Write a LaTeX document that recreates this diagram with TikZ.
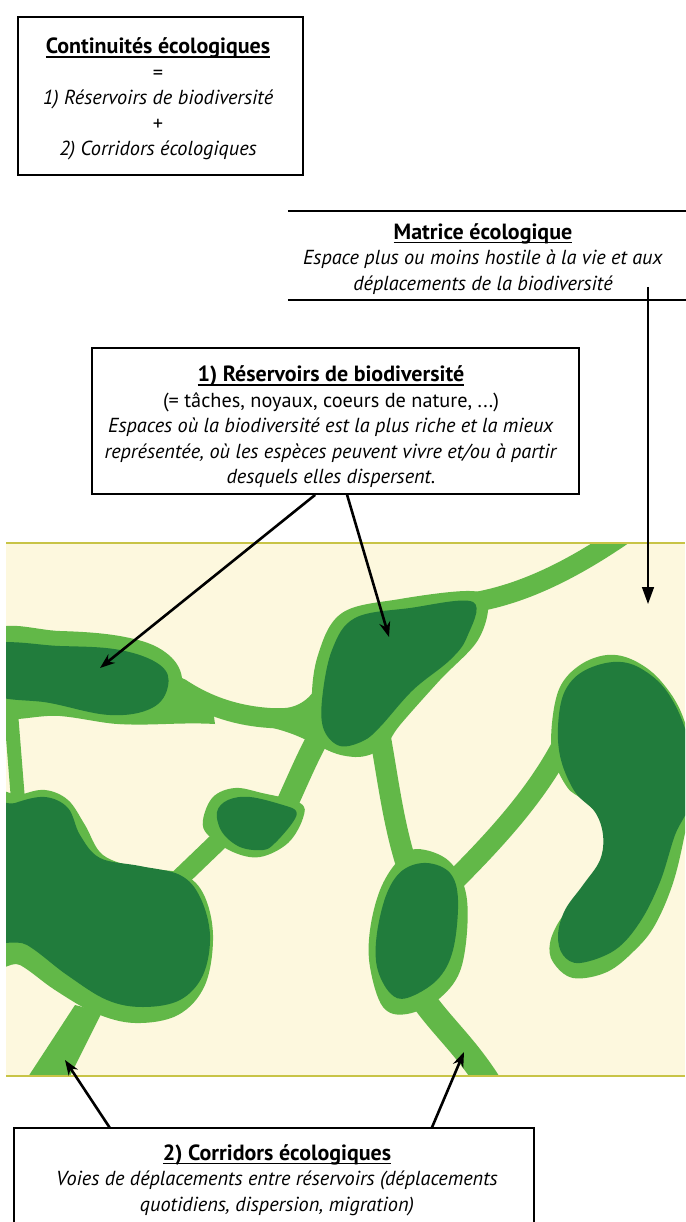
\documentclass[tikz,border=0pt]{standalone}
\usepackage{fontspec}
\setmainfont{PT Sans}
\usetikzlibrary{arrows.meta}
\definecolor{lgreen}{RGB}{98,184,72}
\definecolor{dgreen}{RGB}{33,124,60}
\definecolor{cream}{RGB}{253,248,222}
\definecolor{olive}{RGB}{200,196,70}
\newcommand\ulx[1]{\setbox0\hbox{#1}\rlap{\rule[-4pt]{\wd0}{1.4pt}}\box0}
\newcommand\ttl[1]{\ulx{\fontsize{22}{25.5}\selectfont\bfseries #1}}
\begin{document}
\begin{tikzpicture}[x=1pt,y=-1pt,
  boxtext/.style={align=center, font=\fontsize{20.3}{25.5}\selectfont, inner sep=0pt},
  boxframe/.style={draw=black, line width=1.8pt},
  lightfill/.style={fill=lgreen},
  darkfill/.style={fill=dgreen},
  corr/.style={draw=lgreen, line cap=round, line join=round},
  pointer/.style={line width=2.6pt, -{Stealth[length=15pt,width=11pt]}},
  matarrow/.style={line width=1.5pt, -{Triangle[length=17pt,width=12pt]}}
]
\useasboundingbox (0,0) rectangle (685,1222);

% ---------- map panel ----------
\begin{scope}
\clip (6,543) rectangle (685,1076);
\fill[cream] (6,543) rectangle (685,1076);
% corridors
\draw[corr, line width=20pt] (180,688) .. controls (210,708) and (240,716) .. (270,718) .. controls (290,719) and (305,716) .. (325,712);
\fill[lightfill] (278,709) .. controls (300,708) and (312,698) .. (320,680) -- (332,752) .. controls (314,745) and (298,733) .. (268,727) -- cycle;
\fill[lightfill] (160,650) .. controls (178,668) and (184,690) .. (212,702) -- (215,724) .. controls (180,722) and (150,726) .. (120,724) -- cycle;
\draw[corr, line width=20pt] (470,603) .. controls (520,595) and (570,572) .. (630,530);
\draw[corr, line width=21pt] (380,735) .. controls (388,780) and (393,820) .. (405,860);
\draw[corr, line width=22pt] (328,720) .. controls (310,750) and (298,780) .. (285,808);
\draw[corr, line width=14pt] (10,700) -- (18,800);
\draw[corr, line width=19pt] (230,830) -- (180,878);
\fill[lightfill] (75,1005) -- (102,1012) -- (68,1080) -- (26,1080) -- cycle;
\draw[corr, line width=25pt] (420,995) .. controls (440,1025) and (465,1045) .. (490,1085);
\draw[corr, line width=21pt] (565,740) .. controls (540,790) and (500,835) .. (455,880);
% outer reservoirs
\fill[lightfill] plot[smooth cycle, tension=0.65] coordinates {(-10,633) (60,631) (125,637) (165,652) (182,678) (172,707) (130,724) (60,716) (-10,712)};
\fill[lightfill] plot[smooth cycle, tension=0.6] coordinates {(312,705) (318,655) (342,613) (400,599) (470,591) (488,602) (478,640) (440,680) (400,725) (383,748) (355,757) (322,745)};
\fill[lightfill] plot[smooth cycle, tension=0.6] coordinates {(203,820) (213,797) (235,788) (262,793) (300,803) (303,818) (288,843) (260,857) (233,852) (208,835)};
\fill[lightfill] plot[smooth cycle, tension=0.6] coordinates {(-10,805) (20,795) (45,790) (68,800) (85,825) (103,855) (140,868) (180,873) (203,893) (213,935) (205,985) (178,1015) (135,1023) (95,1013) (55,990) (20,965) (-10,955)};
\fill[lightfill] plot[smooth cycle, tension=0.6] coordinates {(417,849) (450,862) (467,900) (462,965) (440,998) (407,1014) (383,1007) (370,967) (370,930) (380,890) (397,862)};
\fill[lightfill] plot[smooth cycle, tension=0.6] coordinates {(607,655) (633,660) (660,680) (683,717) (695,775) (685,833) (673,883) (655,925) (635,950) (607,972) (573,978) (553,962) (550,943) (560,920) (580,897) (603,872) (613,847) (605,822) (583,800) (567,787) (553,757) (552,723) (560,687) (580,665)};
% inner reservoirs
\fill[darkfill] plot[smooth cycle, tension=0.65] coordinates {(-10,646) (60,646) (120,650) (160,665) (168,686) (152,708) (110,715) (50,703) (-10,692)};
\fill[darkfill] plot[smooth cycle, tension=0.6] coordinates {(322,700) (332,650) (355,618) (410,608) (473,602) (467,637) (450,660) (413,690) (380,727) (363,741) (340,746) (324,730)};
\fill[darkfill] plot[smooth cycle, tension=0.6] coordinates {(217,812) (228,800) (250,797) (283,805) (296,811) (293,822) (275,843) (263,850) (240,847) (222,832)};
\fill[darkfill] plot[smooth cycle, tension=0.6] coordinates {(-10,815) (15,803) (45,797) (68,808) (80,835) (100,858) (140,866) (180,875) (200,897) (210,935) (203,975) (180,1000) (143,1007) (107,1000) (67,975) (27,945) (-10,930)};
\fill[darkfill] plot[smooth cycle, tension=0.6] coordinates {(427,863) (450,873) (458,900) (453,950) (437,980) (407,998) (390,993) (377,967) (377,933) (387,893) (403,870)};
\fill[darkfill] plot[smooth cycle, tension=0.6] coordinates {(613,662) (640,668) (668,693) (688,740) (690,800) (675,835) (660,882) (640,922) (615,950) (580,963) (563,955) (558,935) (565,910) (583,885) (600,860) (603,835) (595,812) (575,792) (561,760) (558,727) (564,693) (582,672)};
\end{scope}
\draw[olive, line width=1.6pt] (6,543) -- (685,543);
\draw[olive, line width=1.6pt] (6,1076) -- (685,1076);

% ---------- box 1 ----------
\node[boxframe, minimum width=285pt, minimum height=158pt, inner sep=0pt] (b1) at (160.5,96) {};
\node[boxtext] (t1) at (158,99) {\ttl{Continuités écologiques}\\ =\\ \textit{1) Réservoirs de biodiversité}\\ +\\ \textit{2) Corridors écologiques}};

% ---------- box 2 ----------
\node[minimum width=400pt, minimum height=89pt, inner sep=0pt] (b2) at (488,255.5) {};
\draw[boxframe] (b2.north west) -- (b2.north east);
\draw[boxframe] (b2.south west) -- (b2.south east);
\node[boxtext] (t2) at (483,259) {\ttl{Matrice écologique}\\ \textit{Espace plus ou moins hostile à la vie et aux}\\ \textit{déplacements de la biodiversité}};

% ---------- box 3 ----------
\node[boxframe, minimum width=487pt, minimum height=146pt, inner sep=0pt] (b3) at (335.5,421) {};
\node[boxtext] (t3) at (331,427) {\ttl{1) Réservoirs de biodiversité}\\ (= tâches, noyaux, coeurs de nature, ...)\\ \textit{Espaces où la biodiversité est la plus riche et la mieux}\\ \textit{représentée, où les espèces peuvent vivre et/ou à partir}\\ \textit{desquels elles dispersent.}};

% ---------- box 4 ----------
\node[minimum width=520pt, minimum height=94pt, inner sep=0pt] (b4) at (274,1175) {};
\draw[boxframe] (b4.south west) -- (b4.north west) -- (b4.north east) -- (b4.south east);
\node[boxtext] (t4) at (277,1180) {\ttl{2) Corridors écologiques}\\ \textit{Voies de déplacements entre réservoirs (déplacements}\\ \textit{quotidiens, dispersion, migration)}};

% ---------- arrows ----------
\coordinate (ms) at (648,287);
\coordinate (mtip) at (648,604);
\coordinate (r1) at (100,668);
\coordinate (r2) at (389,637);
\coordinate (c1) at (65,1060);
\coordinate (c2) at (464,1052);
\draw[matarrow] (ms) -- (mtip);
\draw[pointer] ([xshift=224pt]b3.south west) -- (r1);
\draw[pointer] ([xshift=256pt]b3.south west) -- (r2);
\draw[pointer] ([xshift=96pt]b4.north west) -- (c1);
\draw[pointer] ([xshift=418pt]b4.north west) -- (c2);
\end{tikzpicture}
\end{document}
